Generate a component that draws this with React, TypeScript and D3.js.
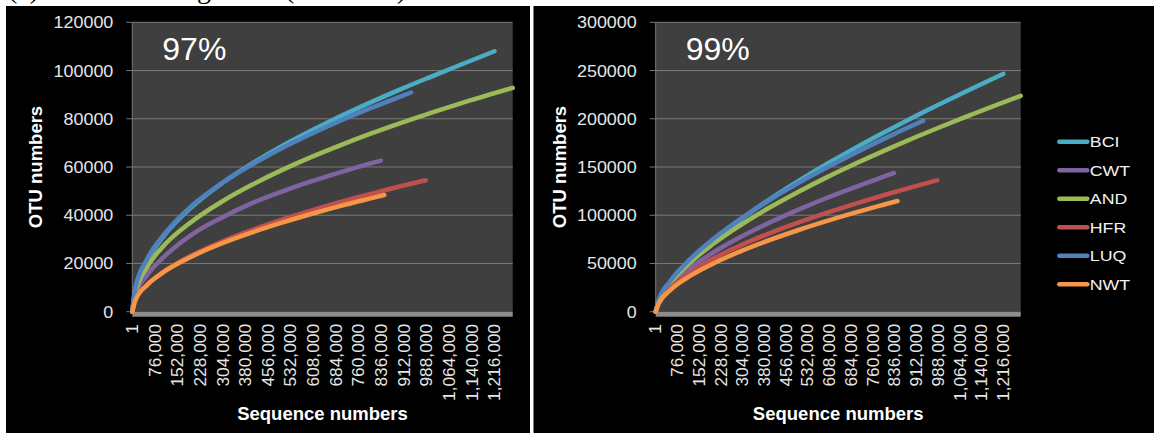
import React from "react";
import * as d3 from "d3";

// Sites in legend / drawing order
const sites = ["BCI", "CWT", "AND", "HFR", "LUQ", "NWT"];
const siteColors = ["#4BACC6", "#8064A2", "#9BBB59", "#C0504D", "#4F81BD", "#F79646"];
// Total sequencing depth reached by each site
const siteDepth = [1216000, 834000, 1277000, 985000, 936000, 846000];

// Subsampling depths shared by all rarefaction curves (each curve stops at its own depth)
const seqSteps = [1, 10000, 50000, 100000, 200000, 300000, 400000, 500000, 600000, 700000, 800000, 900000, 1000000, 1100000];

// OTU counts at 97% similarity
const otu97BCI = [1, 9400, 21200, 30500, 43500, 53200, 61300, 68500, 75000, 81100, 86800, 92200, 97300, 102300, 108000];
const otu97CWT = [1, 6600, 15200, 22000, 32000, 39000, 44900, 49700, 54000, 57900, 61500, 62650];
const otu97AND = [1, 7600, 18500, 26600, 37400, 45600, 52500, 58600, 64100, 69100, 73800, 78200, 82300, 86300, 92800];
const otu97HFR = [1, 4800, 11200, 16200, 23400, 29000, 33800, 38100, 41900, 45500, 48800, 52000, 54500];
const otu97LUQ = [1, 9600, 21900, 31000, 44000, 53200, 60900, 67700, 73700, 79300, 84400, 89200, 90900];
const otu97NWT = [1, 4600, 11100, 16000, 22900, 28300, 32800, 36800, 40500, 43900, 47000, 48400];

// OTU counts at 99% similarity
const otu99BCI = [1, 11000, 29500, 46000, 73300, 96200, 116800, 135600, 153300, 170100, 186000, 201400, 216100, 230400, 246500];
const otu99CWT = [1, 9500, 26600, 40400, 61100, 77900, 92600, 105800, 118100, 129500, 140200, 143800];
const otu99AND = [1, 10300, 29400, 45400, 70100, 90400, 108200, 124400, 139500, 153600, 167000, 179800, 192000, 203800, 223800];
const otu99HFR = [1, 8600, 24000, 36000, 54900, 69200, 81500, 92500, 102700, 112100, 121000, 129400, 136200];
const otu99LUQ = [1, 11400, 31400, 48500, 75000, 96800, 116000, 133500, 149700, 164900, 179400, 193200, 198000];
const otu99NWT = [1, 8000, 22000, 33300, 49800, 63000, 74400, 84700, 94100, 102900, 111100, 114800];

const otu97 = [otu97BCI, otu97CWT, otu97AND, otu97HFR, otu97LUQ, otu97NWT];
const otu99 = [otu99BCI, otu99CWT, otu99AND, otu99HFR, otu99LUQ, otu99NWT];

// Category labels along the sequence axis
const seqTicks = [1, 76000, 152000, 228000, 304000, 380000, 456000, 532000, 608000, 684000, 760000, 836000, 912000, 988000, 1064000, 1140000, 1216000];
const seqMax = 1277000;

const FONT = "'Liberation Sans', Arial, sans-serif";
const LABEL = "#e6e6e6";

type Pt = [number, number];

function seriesPoints(i: number, values: number[]): Pt[] {
  const xs = seqSteps.filter((s) => s < siteDepth[i]).concat([siteDepth[i]]);
  return xs.map((x, k) => [x, values[k]] as Pt);
}

interface PanelProps {
  left: number;
  right: number;
  yMax: number;
  yStep: number;
  values: number[][];
  tag: string;
}

function Panel({ left, right, yMax, yStep, values, tag }: PanelProps) {
  const top = 22.3;
  const bottom = 311.7;
  const x = d3.scaleLinear().domain([1, seqMax]).range([left, right]);
  const y = d3.scaleLinear().domain([0, yMax]).range([bottom, top]);
  const yTicks = d3.range(0, yMax + 1, yStep);
  const line = d3
    .line<Pt>()
    .x((d) => x(d[0]))
    .y((d) => y(d[1]))
    .curve(d3.curveMonotoneX);
  const fmt = d3.format(",");

  return (
    <g>
      <rect x={left} y={top} width={right - left} height={bottom - top} fill="#3f3f3f" />
      {yTicks.map((t) => (
        <g key={t}>
          {t > 0 && <line x1={left} x2={right} y1={y(t)} y2={y(t)} stroke="#7a7a7a" strokeWidth={1} />}
          <line x1={left - 6} x2={left} y1={y(t)} y2={y(t)} stroke="#7a7a7a" strokeWidth={1} />
          <text
            transform={`translate(${left - 19},${y(t) + 6}) scale(1.12,1)`}
            textAnchor="end"
            style={{ fontFamily: FONT, fontSize: "16px" }}
            fill={LABEL}
          >
            {t}
          </text>
        </g>
      ))}
      <line x1={left} x2={left} y1={top} y2={bottom} stroke="#7a7a7a" strokeWidth={1} />
      <rect x={left} y={bottom} width={right - left} height={5} fill="#8c8c8c" />
      {values.map((v, i) => (
        <path
          key={sites[i]}
          d={line(seriesPoints(i, v)) || ""}
          fill="none"
          stroke={siteColors[i]}
          strokeWidth={4.5}
          strokeLinecap="round"
          strokeLinejoin="round"
        />
      ))}
      {seqTicks.map((t) => (
        <text
          key={t}
          transform={`translate(${x(t) + 5.7},324) rotate(-90) scale(1,0.92)`}
          textAnchor="end"
          style={{ fontFamily: FONT, fontSize: "17.3px" }}
          fill={LABEL}
        >
          {fmt(t)}
        </text>
      ))}
      <text x={left + 30} y={59.5} style={{ fontFamily: FONT, fontSize: "32px" }} fill="#ffffff">
        {tag}
      </text>
      <text
        x={(left + right) / 2}
        y={419.5}
        textAnchor="middle"
        style={{ fontFamily: FONT, fontSize: "18.5px", fontWeight: "bold" }}
        fill="#ffffff"
      >
        Sequence numbers
      </text>
      <text
        transform={`translate(${left - 90},${(top + bottom) / 2}) rotate(-90)`}
        textAnchor="middle"
        style={{ fontFamily: FONT, fontSize: "18.5px", fontWeight: "bold" }}
        fill="#ffffff"
      >
        OTU numbers
      </text>
    </g>
  );
}

function Legend({ x0, y0, gap }: { x0: number; y0: number; gap: number }) {
  return (
    <g>
      {sites.map((s, i) => (
        <g key={s}>
          <line
            x1={x0}
            x2={x0 + 28}
            y1={y0 + i * gap}
            y2={y0 + i * gap}
            stroke={siteColors[i]}
            strokeWidth={4.5}
            strokeLinecap="round"
          />
          <text
            transform={`translate(${x0 + 30.5},${y0 + i * gap + 5.3}) scale(1.2,1)`}
            style={{ fontFamily: FONT, fontSize: "14.8px" }}
            fill="#f2f2f2"
          >
            {s}
          </text>
        </g>
      ))}
    </g>
  );
}

export default function App() {
  const serif = "'Liberation Serif', 'Times New Roman', serif";
  return (
    <svg
      width={1154}
      height={433}
      style={{ position: "absolute", left: 0, top: 0, background: "#ffffff" }}
    >
      <rect x={0} y={0} width={1154} height={433} fill="#ffffff" />
      {/* caption line above the figure, mostly cut off */}
      <g style={{ fontFamily: serif, fontSize: "28px" }} fill="#000000">
        <text x={8} y={-2}>(a)</text>
        <text x={197} y={-2}>g</text>
        <text x={285} y={-2}>(</text>
        <text x={397} y={-2}>)</text>
      </g>
      <rect x={6} y={6} width={524} height={427} fill="#000000" />
      <rect x={533.5} y={6} width={620.5} height={427} fill="#000000" />
      <Panel left={132.3} right={512.7} yMax={120000} yStep={20000} values={otu97} tag="97%" />
      <Panel left={655.7} right={1020.7} yMax={300000} yStep={50000} values={otu99} tag="99%" />
      <Legend x0={1059.3} y0={141.7} gap={28.5} />
    </svg>
  );
}
